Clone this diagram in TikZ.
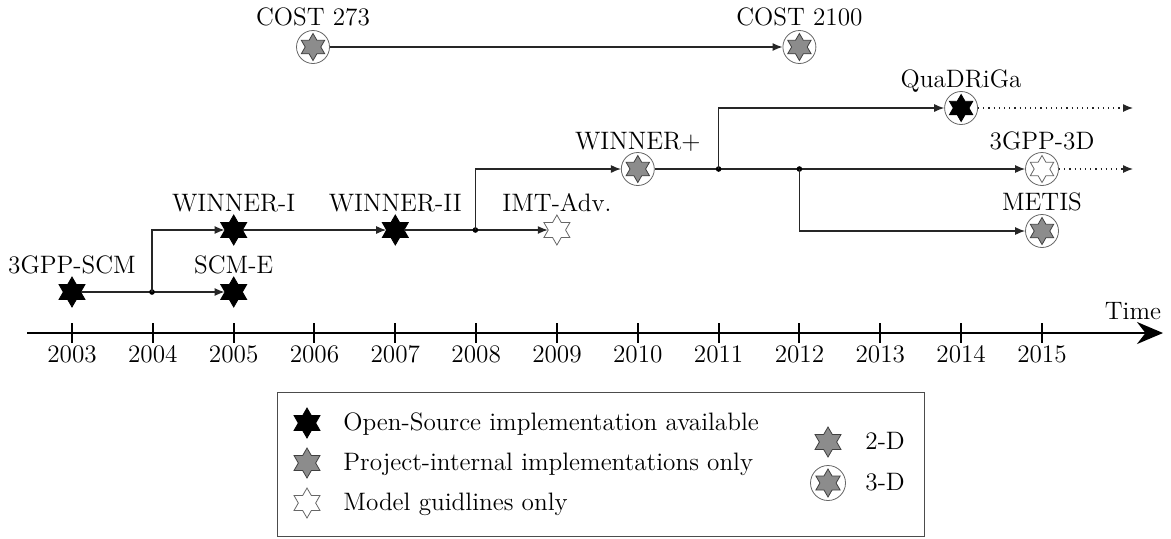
\documentclass[tikz,border=0pt]{standalone}
\usetikzlibrary{shapes.geometric,arrows.meta}
\tikzset{
  sbase/.style={star, star points=6, star point ratio=1.73, inner sep=0pt, line width=0.4pt},
  bigs/.style={sbase, minimum size=15pt},
  smalls/.style={sbase, minimum size=13.5pt},
  sblack/.style={fill=black, draw=black},
  sgray/.style={fill=black!45, draw=black!75},
  swhite/.style={fill=white, draw=black!60},
  ring/.style={circle, draw=black!60, line width=0.4pt, minimum size=16.5pt, inner sep=0pt, fill=white},
  lbl/.style={font=\fontsize{12.6}{15}\selectfont, anchor=base, inner sep=0pt},
  ltxt/.style={font=\fontsize{12.6}{15}\selectfont, anchor=base west, inner sep=0pt},
  conn/.style={draw=black!85, line width=0.6pt, -{Latex[length=5pt,width=4pt]}},
  dconn/.style={conn, dotted},
  jdot/.style={circle, fill=black, inner sep=0pt, minimum size=2.8pt},
  tick/.style={line width=1pt},
}
\begin{document}
\begin{tikzpicture}[x=0.5pt,y=-0.5pt]
\useasboundingbox (0,0) rectangle (1171,538);
% axis
\draw[line width=1pt,-{Stealth[length=13pt,width=11pt]}] (27,333) coordinate (a0) -- (1163,333) coordinate (a1);
\foreach \yr [count=\i from 0] in {2003,2004,2005,2006,2007,2008,2009,2010,2011,2012,2013,2014,2015} {
  \draw[tick] ({72+80.83*\i},323) -- ({72+80.83*\i},343);
  \node[lbl] (y\yr) at ({72+80.83*\i},362) {\yr};
}
\node[lbl] (time) at (1133,319) {Time};

% nodes
\node[bigs,sblack] (scm) at (72,292) {};
\node[lbl] (lscm) at (72,273) {3GPP-SCM};
\node[bigs,sblack] (scme) at (233.7,292) {};
\node[lbl] (lscme) at (233.7,273) {SCM-E};
\node[bigs,sblack] (w1) at (233.7,230) {};
\node[lbl] (lw1) at (233.7,211) {WINNER-I};
\node[bigs,sblack] (w2) at (395.3,230) {};
\node[lbl] (lw2) at (395.3,211) {WINNER-II};
\node[bigs,swhite] (imt) at (556.9,230) {};
\node[lbl] (limt) at (556.9,211) {IMT-Adv.};

\node[ring] (wp) at (637.8,169) {};
\node[smalls,sgray] (wps) at (wp.center) {};
\node[lbl] (lwp) at (637.8,149) {WINNER+};

\node[ring] (quad) at (961.1,108) {};
\node[smalls,sblack] (quads) at (quad.center) {};
\node[lbl] (lquad) at (961.1,87) {QuaDRiGa};

\node[ring] (g3d) at (1042,169) {};
\node[smalls,swhite] (g3ds) at (g3d.center) {};
\node[lbl] (lg3d) at (1042,149) {3GPP-3D};

\node[ring] (metis) at (1042,231) {};
\node[smalls,sgray] (metiss) at (metis.center) {};
\node[lbl] (lmetis) at (1042,210) {METIS};

\node[ring] (c273) at (313,47) {};
\node[smalls,sgray] (c273s) at (c273.center) {};
\node[lbl] (lc273) at (313,25) {COST 273};

\node[ring] (c2100) at (799.4,47) {};
\node[smalls,sgray] (c2100s) at (c2100.center) {};
\node[lbl] (lc2100) at (799.4,25) {COST 2100};

% connectors
\draw[conn] (c273) -- (c2100);
\draw[conn] (scm) -- (scme);
\node[jdot] (j1) at (152,292) {};
\draw[conn] (j1.center) |- (w1);
\draw[conn] (w1) -- (w2);
\draw[conn] (w2) -- (imt);
\node[jdot] (j2) at (475.4,230) {};
\draw[conn] (j2.center) |- (wp);
\draw[conn] (wp) -- (g3d);
\node[jdot] (j3) at (718.6,169) {};
\node[jdot] (j4) at (799.4,169) {};
\draw[conn] (j3.center) |- (quad);
\draw[conn] (j4.center) |- (metis);
\coordinate (e1) at (1133,108);
\coordinate (e2) at (1133,169);
\draw[dconn] (quad) -- (e1);
\draw[dconn] (g3d) -- (e2);

% legend
\draw[black!70, line width=0.5pt] (277,392) rectangle (924,536);
\node[bigs,sblack] (lg1) at (307,423) {};
\node[ltxt] (lt1) at (343,430) {Open-Source implementation available};
\node[bigs,sgray] (lg2) at (307,463) {};
\node[ltxt] (lt2) at (343,470) {Project-internal implementations only};
\node[bigs,swhite] (lg3) at (307,503) {};
\node[ltxt] (lt3) at (343,510) {Model guidlines only};
\node[bigs,sgray] (lg4) at (828,442) {};
\node[ltxt] (lt4) at (865,449) {2-D};
\node[ring, minimum size=17.5pt] (lg5) at (828,483) {};
\node[bigs,sgray, minimum size=14pt] (lg5s) at (lg5.center) {};
\node[ltxt] (lt5) at (865,490) {3-D};
\end{tikzpicture}
\end{document}
